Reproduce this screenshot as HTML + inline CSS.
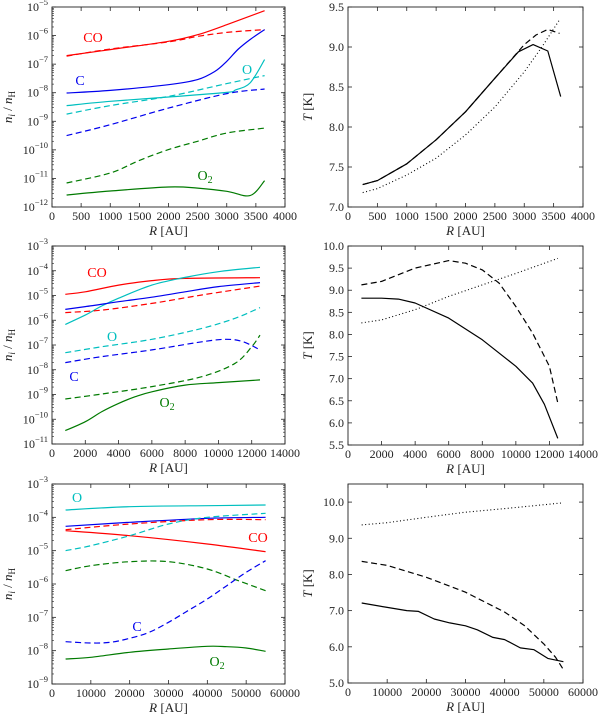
<!DOCTYPE html>
<html><head><meta charset="utf-8"><style>
html,body{margin:0;padding:0;background:#fff}
svg{display:block;font-family:"Liberation Serif",serif}
</style></head><body>
<svg id="fig" width="600" height="716" viewBox="0 0 600 716" xmlns="http://www.w3.org/2000/svg"></svg>
<script>
// ---------- DATA ----------
const xA = [250,1000,2000,2500,3000,3650];
const aCOs = [-6.70,-6.49,-6.20,-5.97,-5.62,-5.13];
const aCOd = [-6.72,-6.47,-6.22,-6.03,-5.89,-5.79];
const xAC = [250,1000,2000,2500,2800,3000,3200,3400,3650];
const aCs = [-8.01,-7.92,-7.72,-7.54,-7.25,-6.90,-6.47,-6.14,-5.79];
const xAO = [250,1000,2000,3000,3150,3400,3650];
const aOs = [-8.45,-8.30,-8.15,-7.99,-7.90,-7.66,-6.84];
const xA5 = [250,1000,2000,3000,3650];
const aOd = [-8.75,-8.45,-8.13,-7.68,-7.40];
const aCd = [-9.50,-9.12,-8.54,-8.03,-7.87];
const xAO2d = [250,1000,1500,2000,2500,3000,3650];
const aO2d = [-11.16,-10.81,-10.37,-9.99,-9.70,-9.41,-9.24];
const xAO2s = [250,1000,2000,2500,3000,3400,3650];
const aO2s = [-11.58,-11.44,-11.30,-11.34,-11.45,-11.60,-11.08];

const xB = [800,2000,4000,6000,8000,12500];
const bCOs = [-4.95,-4.85,-4.58,-4.40,-4.31,-4.28];
const xBO = [800,2000,3000,4000,6000,8000,10000,12500];
const bOs = [-6.17,-5.79,-5.42,-5.11,-4.58,-4.27,-4.04,-3.86];
const xBC = [800,2000,4000,6000,8000,10000,12500];
const bCs = [-5.56,-5.45,-5.25,-5.07,-4.85,-4.64,-4.48];
const xBd = [800,3000,6000,9000,12500];
const bCOd = [-5.69,-5.59,-5.32,-4.98,-4.62];
const xBOd = [800,3000,6000,9000,11000,12500];
const bOd = [-7.31,-7.07,-6.77,-6.33,-5.92,-5.49];
const xBCd = [800,3000,6000,9000,10500,11500,12500];
const bCd = [-7.71,-7.47,-7.20,-6.87,-6.77,-6.87,-7.20];
const xBO2d = [800,3000,6000,9000,11000,12000,12500];
const bO2d = [-9.18,-8.98,-8.68,-8.28,-7.74,-7.07,-6.60];
const xBO2s = [800,2000,3000,4000,5000,6000,8000,10000,12500];
const bO2s = [-10.46,-10.10,-9.69,-9.36,-9.09,-8.89,-8.62,-8.52,-8.41];

const xC = [3500,20000,40000,55000];
const cOs = [-3.78,-3.68,-3.65,-3.63];
const cCs = [-4.27,-4.15,-4.03,-4.00];
const cCOd = [-4.37,-4.20,-4.07,-4.07];
const cCOs = [-4.40,-4.55,-4.80,-5.03];
const xCOd = [3500,10000,20000,30000,40000,55000];
const cOd = [-5.00,-4.85,-4.55,-4.20,-4.00,-3.88];
const xCO2d = [3500,10000,20000,30000,40000,48000,55000];
const cO2d = [-5.60,-5.45,-5.33,-5.33,-5.55,-5.90,-6.20];
const xCCd = [3500,10000,15000,20000,25000,30000,35000,40000,45000,50000,55000];
const cCd = [-7.73,-7.77,-7.75,-7.63,-7.45,-7.15,-6.80,-6.45,-6.05,-5.65,-5.30];
const xCO2s = [3500,10000,20000,30000,40000,45000,50000,55000];
const cO2s = [-8.25,-8.20,-8.05,-7.95,-7.87,-7.88,-7.92,-8.02];

const xD = [250,500,1000,1500,2000,2500,2900,3150,3400,3620];
const dTs = [7.28,7.33,7.54,7.84,8.19,8.61,8.94,9.03,8.95,8.38];
const xDd = [250,500,1000,1500,2000,2500,3000,3200,3400,3600];
const dTd = [7.28,7.33,7.54,7.84,8.19,8.61,9.03,9.15,9.22,9.17];
const xDo = [250,500,1000,1500,2000,2500,3000,3300,3600];
const dTo = [7.18,7.23,7.40,7.61,7.90,8.25,8.69,9.00,9.34];

const xE = [800,2000,3000,4000,6000,8000,10000,11000,11700,12500];
const eTs = [8.82,8.82,8.80,8.71,8.37,7.88,7.28,6.90,6.42,5.65];
const xEd = [800,2000,4000,6000,7000,8000,9000,10000,11000,12000,12500];
const eTd = [9.12,9.20,9.50,9.67,9.61,9.46,9.16,8.63,8.03,7.28,6.45];
const xEo = [800,2000,4000,6000,8000,10000,12500];
const eTo = [8.26,8.33,8.56,8.86,9.12,9.38,9.72];

const xF = [3500,10000,15000,18000,22000,26000,30000,33000,37000,40000,44000,47500,51000,55000];
const fTs = [7.21,7.09,7.00,6.98,6.77,6.66,6.58,6.47,6.26,6.20,5.97,5.92,5.68,5.59];
const xFd = [3500,10000,20000,30000,40000,45000,50000,53000,55000];
const fTd = [8.36,8.25,7.92,7.51,6.96,6.59,6.08,5.71,5.37];
const xFo = [3500,10000,20000,30000,40000,55000];
const fTo = [9.37,9.43,9.58,9.72,9.82,9.98];

const ticksA = [0,500,1000,1500,2000,2500,3000,3500,4000];
const ticksB = [0,2000,4000,6000,8000,10000,12000,14000];
const ticksC = [0,10000,20000,30000,40000,50000,60000];

// ---------- DRAW ----------
const NS="http://www.w3.org/2000/svg";
const svg=document.getElementById('fig');
function el(t,a,p){const e=document.createElementNS(NS,t);for(const k in a)e.setAttribute(k,a[k]);(p||svg).appendChild(e);return e;}
const COL={r:'#ff0000',b:'#0000ee',c:'#00bfbf',g:'#007a00',k:'#000'};

function panel(name,box,xmax,xticks,ymin,ymax,logy,yticks,ylabelFmt){
  const g=el('g',{});
  
  
  const sx=v=>box.x0+(v/xmax)*(box.x1-box.x0);
  const sy=v=>box.y1-(v-ymin)/(ymax-ymin)*(box.y1-box.y0);
  const fr=el('rect',{x:box.x0,y:box.y0,width:box.x1-box.x0,height:box.y1-box.y0,fill:'none',stroke:'#222','stroke-width':0.9},g);
  
  
  xticks.forEach(t=>{
    const x=sx(t);
    el('line',{x1:x,x2:x,y1:box.y1,y2:box.y1-4,stroke:'#222','stroke-width':0.8},g);
    el('line',{x1:x,x2:x,y1:box.y0,y2:box.y0+4,stroke:'#222','stroke-width':0.8},g);
    const tx=el('text',{x:x,y:box.y1+13,'font-size':12,'text-anchor':'middle',fill:'#222'},g);
    tx.textContent=String(t);
    
    
  });
  yticks.forEach(t=>{
    const y=sy(t);
    el('line',{x1:box.x0,x2:box.x0+4,y1:y,y2:y,stroke:'#222','stroke-width':0.8},g);
    el('line',{x1:box.x1,x2:box.x1-4,y1:y,y2:y,stroke:'#222','stroke-width':0.8},g);
    const tx=el('text',{x:box.x0-4,y:y+4,'font-size':12,'text-anchor':'end',fill:'#222'},g);
    
    
    if(logy){
      const a=el('tspan',{},tx);a.textContent='10';
      const b=el('tspan',{dy:-6,'font-size':8.5},tx);b.textContent='−'+Math.abs(t);
    } else tx.textContent=ylabelFmt(t);
    if(logy && t<ymax){
      for(let m=2;m<10;m++){const yy=sy(t+Math.log10(m));
        el('line',{x1:box.x0,x2:box.x0+2,y1:yy,y2:yy,stroke:'#222','stroke-width':0.6},g);
        el('line',{x1:box.x1,x2:box.x1-2,y1:yy,y2:yy,stroke:'#222','stroke-width':0.6},g);}
    }
  });
  const xl=el('text',{x:(box.x0+box.x1)/2,y:box.y1+28,'font-size':13,'text-anchor':'middle',fill:'#222'},g);
  
  
  const i1=el('tspan',{'font-style':'italic'},xl);i1.textContent='R';
  const i2=el('tspan',{},xl);i2.textContent=' [AU]';
  const yx=logy?box.x0-40:box.x0-36, yc=(box.y0+box.y1)/2;
  const yl=el('text',{x:yx,y:yc,'font-size':13,'text-anchor':'middle',fill:'#222',transform:`rotate(-90 ${yx} ${yc})`},g);
  
  
  if(logy){
    let s=el('tspan',{'font-style':'italic'},yl);s.textContent='n';
    s=el('tspan',{'font-size':9,dy:3,'font-style':'italic'},yl);s.textContent='i';
    s=el('tspan',{dy:-3},yl);s.textContent=' / ';
    s=el('tspan',{'font-style':'italic'},yl);s.textContent='n';
    s=el('tspan',{'font-size':9,dy:3},yl);s.textContent='H';
  } else {
    let s=el('tspan',{'font-style':'italic'},yl);s.textContent='T';
    s=el('tspan',{},yl);s.textContent=' [K]';
  }
  return {g,sx,sy,smooth:logy};
}
function pathD(P,xs,ys){
  const p=xs.map((x,i)=>[P.sx(x),P.sy(ys[i])]);
  if(!P.smooth) return 'M'+p.map(q=>q[0].toFixed(1)+','+q[1].toFixed(1)).join(' L');
  let d='M'+p[0][0].toFixed(1)+','+p[0][1].toFixed(1);
  for(let i=0;i<p.length-1;i++){
    const p0=p[Math.max(0,i-1)],p1=p[i],p2=p[i+1],p3=p[Math.min(p.length-1,i+2)];
    const c1=[p1[0]+(p2[0]-p0[0])/6,p1[1]+(p2[1]-p0[1])/6];
    const c2=[p2[0]-(p3[0]-p1[0])/6,p2[1]-(p3[1]-p1[1])/6];
    d+=' C'+c1.map(v=>v.toFixed(1)).join(',')+' '+c2.map(v=>v.toFixed(1)).join(',')+' '+p2[0].toFixed(1)+','+p2[1].toFixed(1);
  }
  return d;
}
function series(P,xs,ys,color,style,name){
  const a={d:pathD(P,xs,ys),fill:'none',stroke:COL[color],'stroke-width':1.2,'stroke-linejoin':'round'};
  if(style==='d')a['stroke-dasharray']='6,3.5';
  if(style==='o'){a['stroke-dasharray']='1,2.5';a['stroke-width']=1.1;}
  const p=el('path',a,P.g);
  
  
}
function label(P,x,y,txt,color,sub,name){
  const t=el('text',{x:x,y:y,'font-size':14,fill:COL[color],'text-anchor':'middle'},P.g);
  
  
  const a=el('tspan',{},t);a.textContent=txt;
  if(sub){const b=el('tspan',{dy:3,'font-size':10},t);b.textContent=sub;}
}

let P=panel('abundance-panel-1',{x0:52,x1:285,y0:7,y1:207},4000,ticksA,-12,-5,true,[-12,-11,-10,-9,-8,-7,-6,-5]);
series(P,xA,aCOs,'r','s','co-solid');series(P,xA,aCOd,'r','d','co-dashed');
series(P,xAC,aCs,'b','s','c-solid');series(P,xAO,aOs,'c','s','o-solid');
series(P,xA5,aOd,'c','d','o-dashed');series(P,xA5,aCd,'b','d','c-dashed');
series(P,xAO2d,aO2d,'g','d','o2-dashed');series(P,xAO2s,aO2s,'g','s','o2-solid');
label(P,93,42,'CO','r','', 'label-co');label(P,80,85,'C','b','','label-c');
label(P,247,74,'O','c','','label-o');label(P,205,180,'O','g','2','label-o2');

P=panel('abundance-panel-2',{x0:52,x1:285,y0:246,y1:444},14000,ticksB,-11,-3,true,[-11,-10,-9,-8,-7,-6,-5,-4,-3]);
series(P,xB,bCOs,'r','s','co-solid');series(P,xBO,bOs,'c','s','o-solid');
series(P,xBC,bCs,'b','s','c-solid');series(P,xBd,bCOd,'r','d','co-dashed');
series(P,xBOd,bOd,'c','d','o-dashed');series(P,xBCd,bCd,'b','d','c-dashed');
series(P,xBO2d,bO2d,'g','d','o2-dashed');series(P,xBO2s,bO2s,'g','s','o2-solid');
label(P,97,277,'CO','r','','label-co');label(P,112,341,'O','c','','label-o');
label(P,74,381,'C','b','','label-c');label(P,167,407,'O','g','2','label-o2');

P=panel('abundance-panel-3',{x0:52,x1:285,y0:484,y1:684},60000,ticksC,-9,-3,true,[-9,-8,-7,-6,-5,-4,-3]);
series(P,xC,cOs,'c','s','o-solid');series(P,xC,cCs,'b','s','c-solid');
series(P,xC,cCOd,'r','d','co-dashed');series(P,xC,cCOs,'r','s','co-solid');
series(P,xCOd,cOd,'c','d','o-dashed');series(P,xCO2d,cO2d,'g','d','o2-dashed');
series(P,xCCd,cCd,'b','d','c-dashed');series(P,xCO2s,cO2s,'g','s','o2-solid');
label(P,77,502,'O','c','','label-o');label(P,258,542,'CO','r','','label-co');
label(P,137,631,'C','b','','label-c');label(P,217,666,'O','g','2','label-o2');

const f1=v=>v.toFixed(1);
P=panel('temperature-panel-1',{x0:348,x1:583,y0:7,y1:207},4000,ticksA,7.0,9.5,false,[7.0,7.5,8.0,8.5,9.0,9.5],f1);
series(P,xD,dTs,'k','s','t-solid');series(P,xDd,dTd,'k','d','t-dashed');series(P,xDo,dTo,'k','o','t-dotted');
P=panel('temperature-panel-2',{x0:348,x1:583,y0:246,y1:445},14000,ticksB,5.5,10.0,false,[5.5,6.0,6.5,7.0,7.5,8.0,8.5,9.0,9.5,10.0],f1);
series(P,xE,eTs,'k','s','t-solid');series(P,xEd,eTd,'k','d','t-dashed');series(P,xEo,eTo,'k','o','t-dotted');
P=panel('temperature-panel-3',{x0:348,x1:583,y0:484,y1:683},60000,ticksC,5.0,10.5,false,[5.0,6.0,7.0,8.0,9.0,10.0],f1);
series(P,xF,fTs,'k','s','t-solid');series(P,xFd,fTd,'k','d','t-dashed');series(P,xFo,fTo,'k','o','t-dotted');
</script>
</body></html>
